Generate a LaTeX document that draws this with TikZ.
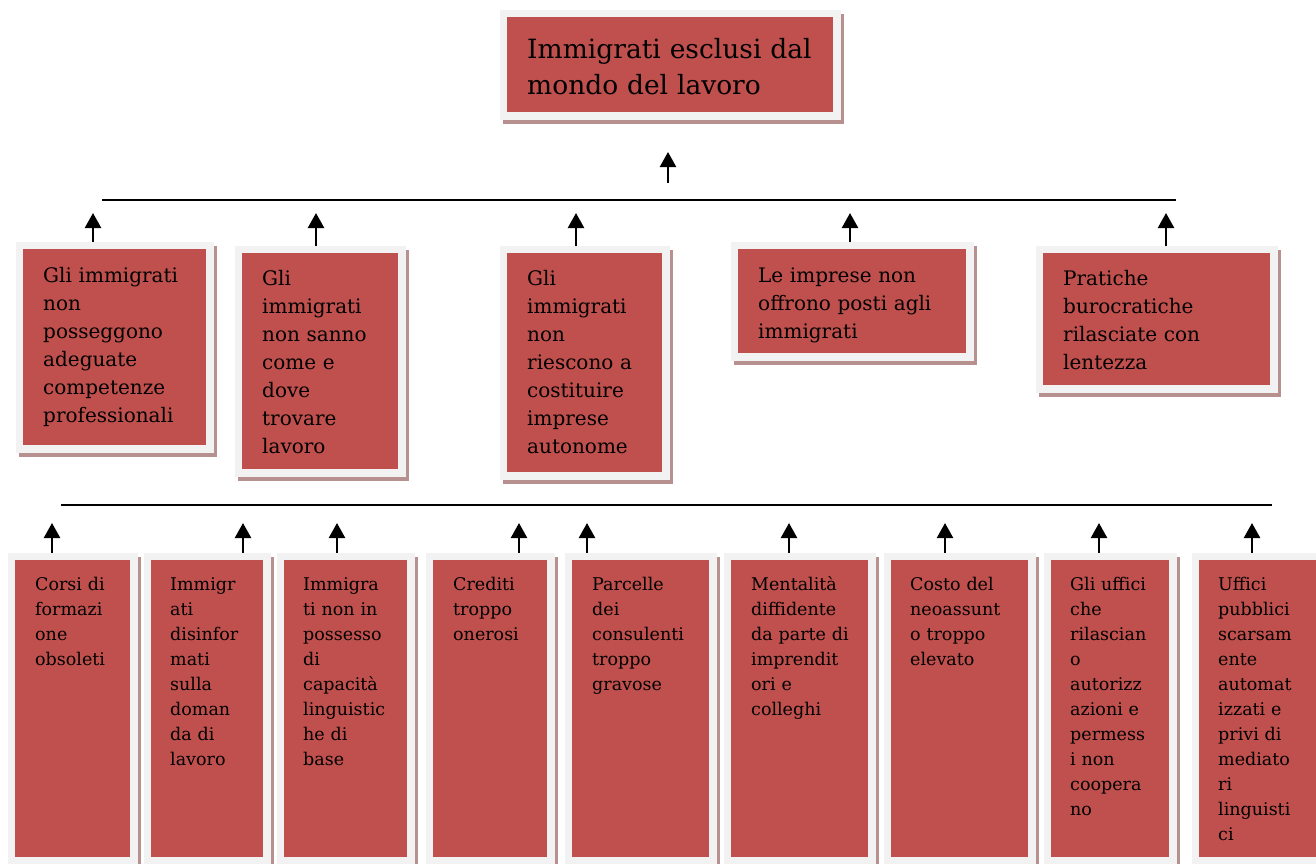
\documentclass[tikz,border=0pt]{standalone}
\usepackage{fontspec}
\setmainfont{DejaVu Serif}
\usetikzlibrary{arrows.meta,fit}
\definecolor{boxred}{HTML}{C0504D}
\definecolor{framegray}{HTML}{F2F2F2}
\definecolor{shadowc}{HTML}{B79190}
\tikzset{
  pbox/.style={rectangle, fill=boxred, draw=framegray, line width=7.5pt, inner sep=3.75pt,
    preaction={fill=shadowc, draw=shadowc, line width=7.5pt, transform canvas={xshift=3pt,yshift=-4pt}}},
  txtbase/.style={anchor=base west, inner sep=0pt, align=left, text=black},
  ttxt/.style={txtbase, font=\fontsize{26.5}{36}\selectfont},
  mtxt/.style={txtbase, font=\fontsize{20}{28}\selectfont},
  btxt/.style={txtbase, font=\fontsize{17.5}{25}\selectfont},
  arr/.style={line width=2.4pt, -{Triangle[width=16pt,length=15pt]}},
  hline/.style={line width=2pt},
}
\begin{document}
\begin{tikzpicture}[x=1pt,y=-1pt]
\useasboundingbox (0,0) rectangle (1316,863);
\clip (0,0) rectangle (1316,863);
% top box
\node[pbox, fit={(507,17) (833,112)}] (t) {};
\node[ttxt, text width=306pt] (tt) at (527,58) {Immigrati esclusi dal\\mondo del lavoro};
% middle boxes
\node[pbox, fit={(23,249) (206,445)}] (m1) {};
\node[pbox, fit={(242,253) (398,469)}] (m2) {};
\node[pbox, fit={(507,253) (662,472)}] (m3) {};
\node[pbox, fit={(738,249) (966,353)}] (m4) {};
\node[pbox, fit={(1043,253) (1270,385)}] (m5) {};
\node[mtxt, text width=163pt] (m1t) at (43,282) {Gli immigrati\\non\\posseggono\\adeguate\\competenze\\professionali};
\node[mtxt, text width=136pt] (m2t) at (262,285) {Gli\\immigrati\\non sanno\\come e\\dove\\trovare\\lavoro};
\node[mtxt, text width=135pt] (m3t) at (527,285) {Gli\\immigrati\\non\\riescono a\\costituire\\imprese\\autonome};
\node[mtxt, text width=208pt] (m4t) at (758,282) {Le imprese non\\offrono posti agli\\immigrati};
\node[mtxt, text width=207pt] (m5t) at (1063,285) {Pratiche\\burocratiche\\rilasciate con\\lentezza};
% bottom boxes
\node[pbox, fit={(15,560) (130,857)}] (b1) {};
\node[pbox, fit={(151,560) (263,857)}] (b2) {};
\node[pbox, fit={(284,560) (407,857)}] (b3) {};
\node[pbox, fit={(433,560) (547,857)}] (b4) {};
\node[pbox, fit={(572,560) (709,857)}] (b5) {};
\node[pbox, fit={(731,560) (868,857)}] (b6) {};
\node[pbox, fit={(891,560) (1028,857)}] (b7) {};
\node[pbox, fit={(1051,560) (1169,857)}] (b8) {};
\node[pbox, fit={(1199,560) (1322,857)}] (b9) {};
\node[btxt, text width=95pt] (b1t) at (35,590) {Corsi di\\formazi\\one\\obsoleti};
\node[btxt, text width=93pt] (b2t) at (170,590) {Immigr\\ati\\disinfor\\mati\\sulla\\doman\\da di\\lavoro};
\node[btxt, text width=104pt] (b3t) at (303,590) {Immigra\\ti non in\\possesso\\di\\capacità\\linguistic\\he di\\base};
\node[btxt, text width=94pt] (b4t) at (453,590) {Crediti\\troppo\\onerosi};
\node[btxt, text width=117pt] (b5t) at (592,590) {Parcelle\\dei\\consulenti\\troppo\\gravose};
\node[btxt, text width=117pt] (b6t) at (751,590) {Mentalità\\diffidente\\da parte di\\imprendit\\ori e\\colleghi};
\node[btxt, text width=118pt] (b7t) at (910,590) {Costo del\\neoassunt\\o troppo\\elevato};
\node[btxt, text width=99pt] (b8t) at (1070,590) {Gli uffici\\che\\rilascian\\o\\autorizz\\azioni e\\permess\\i non\\coopera\\no};
\node[btxt, text width=96pt] (b9t) at (1218,590) {Uffici\\pubblici\\scarsam\\ente\\automat\\izzati e\\privi di\\mediato\\ri\\linguisti\\ci};
% connector coordinates
\coordinate (ta0) at (668,183);
\coordinate (ta1) at (668,152);
\coordinate (h1l) at (102,200);
\coordinate (h1r) at (1176,200);
\coordinate (h2l) at (61,505);
\coordinate (h2r) at (1272,505);
\coordinate (ma1) at (93,213);
\coordinate (ma2) at (316,213);
\coordinate (ma3) at (576,213);
\coordinate (ma4) at (850,213);
\coordinate (ma5) at (1166,213);
\coordinate (ba1) at (52,523);
\coordinate (ba2) at (243,523);
\coordinate (ba3) at (337,523);
\coordinate (ba4) at (519,523);
\coordinate (ba5) at (587,523);
\coordinate (ba6) at (789,523);
\coordinate (ba7) at (945,523);
\coordinate (ba8) at (1099,523);
\coordinate (ba9) at (1252,523);
% connectors
\draw[arr] (ta0) -- (ta1);
\draw[hline] (h1l) -- (h1r);
\draw[hline] (h2l) -- (h2r);
\foreach \i in {1,...,5} \draw[arr] (ma\i |- m\i.north) -- (ma\i);
\foreach \i in {1,...,9} \draw[arr] (ba\i |- b\i.north) -- (ba\i);
\end{tikzpicture}
\end{document}
